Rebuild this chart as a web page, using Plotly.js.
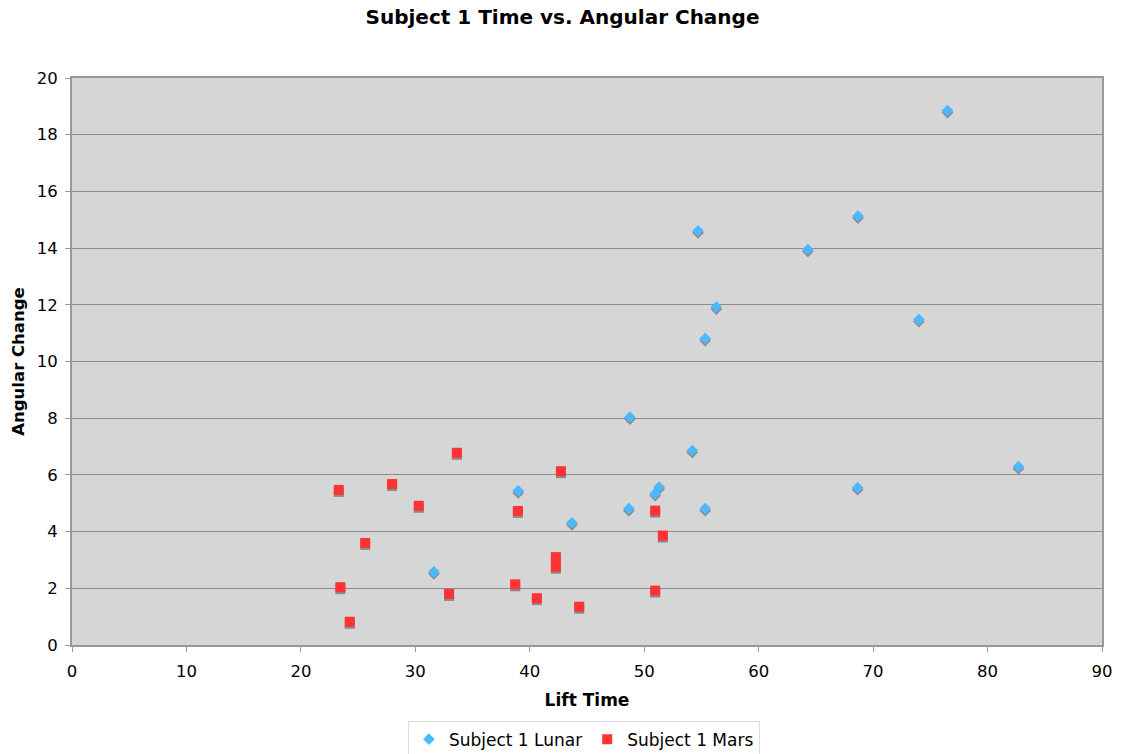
<!DOCTYPE html>
<html>
<head>
<meta charset="utf-8">
<script src="https://cdn.plot.ly/plotly-3.0.1.min.js"></script>
<style>
html,body{margin:0;padding:0;background:#fff;}
#chart{width:1125px;height:754px;}
#chart .scatterlayer .points path{filter:drop-shadow(0px 2px 0px rgba(120,120,120,0.8));}
</style>
</head>
<body>
<div id="chart"></div>
<script>
var lunarX = [76.5, 68.68, 54.7, 64.3, 56.3, 74.0, 55.33, 48.75, 54.2, 82.7, 51.3, 50.96, 68.65, 48.66, 55.33, 38.99, 31.62, 43.68];
var lunarY = [18.85, 15.13, 14.61, 13.95, 11.92, 11.48, 10.81, 8.04, 6.86, 6.29, 5.57, 5.34, 5.55, 4.81, 4.81, 5.44, 2.58, 4.31];
var marsX = [33.63, 23.31, 27.97, 30.3, 42.72, 38.96, 25.62, 42.28, 42.28, 23.45, 32.95, 38.73, 40.62, 44.32, 24.27, 50.96, 51.63, 50.96];
var marsY = [6.78, 5.47, 5.68, 4.91, 6.13, 4.73, 3.6, 3.1, 2.76, 2.04, 1.8, 2.14, 1.65, 1.35, 0.82, 4.74, 3.86, 1.92];
var seriesNames = ["Subject 1 Lunar", "Subject 1 Mars"];

var font = "DejaVu Sans, Verdana, sans-serif";
var data = [
  {x: lunarX, y: lunarY, type: "scatter", mode: "markers", name: seriesNames[0],
   marker: {symbol: "diamond", size: 9, color: "#4DB8FF", line: {width: 0}}},
  {x: marsX, y: marsY, type: "scatter", mode: "markers", name: seriesNames[1],
   marker: {symbol: "square", size: 10, color: "#FF3333", line: {width: 0}}}
];
var axisCommon = {
  showline: true, linecolor: "#999999", linewidth: 2, mirror: true,
  ticks: "outside", ticklen: 5, tickcolor: "#999999", tickwidth: 1,
  zeroline: false, tickfont: {family: font, size: 16.5, color: "#000"}
};
var layout = {
  width: 1125, height: 754,
  margin: {l: 72, r: 23, t: 78, b: 109, autoexpand: false},
  paper_bgcolor: "#ffffff", plot_bgcolor: "#D6D6D6",
  title: {text: "<b>Subject 1 Time vs. Angular Change</b>", x: 0.5, xanchor: "center", y: 0.977, yanchor: "middle",
          font: {family: font, size: 20, color: "#000"}},
  xaxis: Object.assign({}, axisCommon, {
    range: [0, 90], tick0: 0, dtick: 10, showgrid: false, ticklabelstandoff: 5,
    title: {text: "<b>Lift Time</b>", font: {family: font, size: 17, color: "#000"}, standoff: 14}
  }),
  yaxis: Object.assign({}, axisCommon, {
    range: [0, 20], tick0: 0, dtick: 2, showgrid: true, gridcolor: "#8C8C8C", gridwidth: 1, ticklabelstandoff: 4,
    title: {text: "<b>Angular Change</b>", font: {family: font, size: 16.5, color: "#000"}, standoff: 8}
  }),
  showlegend: true,
  legend: {orientation: "h", xref: "container", yref: "container", x: 0.519, xanchor: "center", y: 0.019, yanchor: "middle",
           bgcolor: "#ffffff", bordercolor: "#DDDDDD", borderwidth: 1,
           font: {family: font, size: 17, color: "#000"}, itemwidth: 30, tracegroupgap: 0}
};
Plotly.newPlot("chart", data, layout, {displayModeBar: false, staticPlot: true});
</script>
</body>
</html>
